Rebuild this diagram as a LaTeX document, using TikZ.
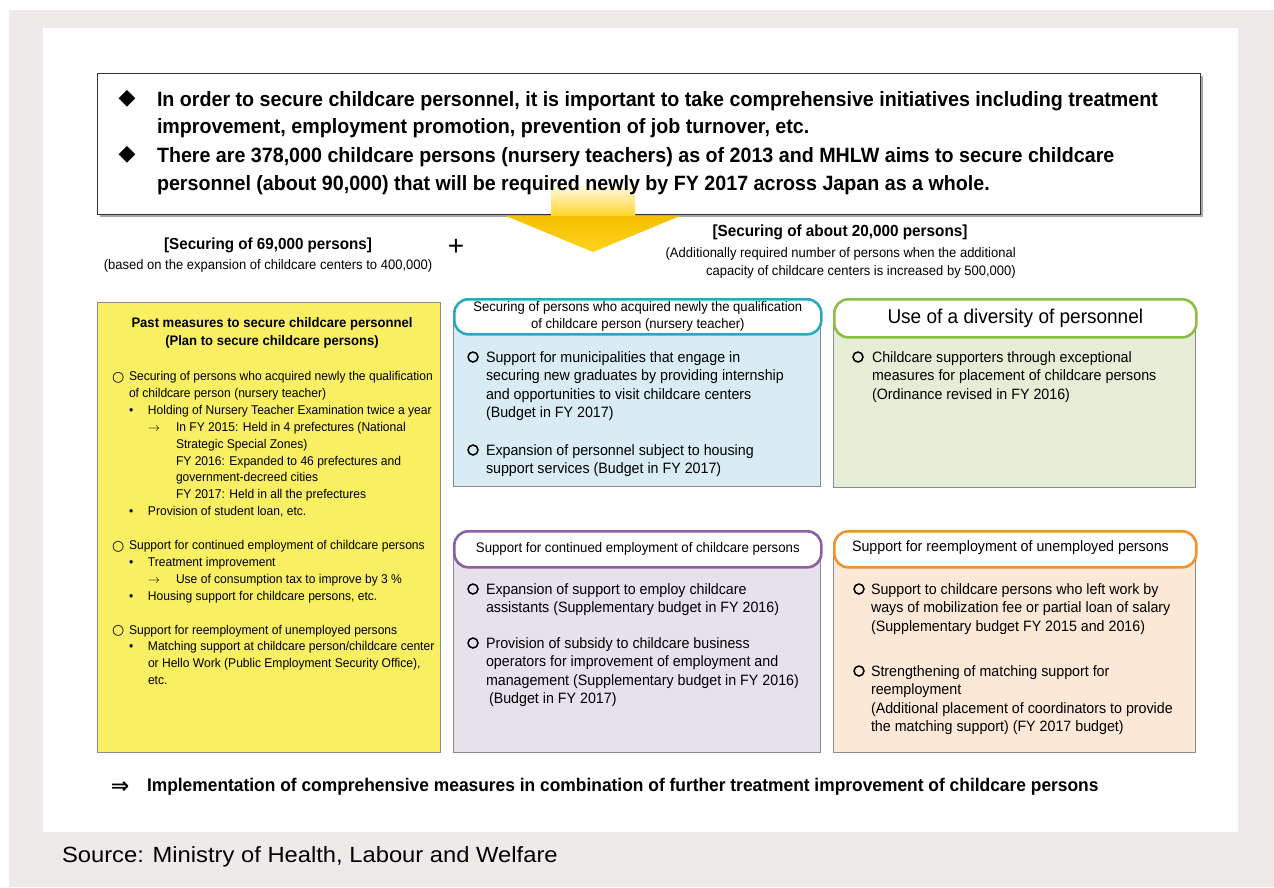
\documentclass[tikz,border=0pt]{standalone}
\usepackage{fontspec}
\setmainfont[FakeStretch=0.95]{Liberation Sans}
\newfontfamily\srcfont[FakeStretch=1.08]{Liberation Sans}
\newfontfamily\plusfont{Liberation Sans}
\newfontfamily\symfont{DejaVu Sans}
\definecolor{bggray}{HTML}{EDEAE9}
\definecolor{boxgray}{HTML}{8C8C8C}
\definecolor{yfill}{HTML}{F8EF63}
\definecolor{bfill}{HTML}{D9ECF4}
\definecolor{gfill}{HTML}{E5EDD6}
\definecolor{pfill}{HTML}{E7E1EC}
\definecolor{ofill}{HTML}{FCE8D7}
\definecolor{bline}{HTML}{2BA7BF}
\definecolor{gline}{HTML}{8CBE44}
\definecolor{pline}{HTML}{8B5EA6}
\definecolor{oline}{HTML}{EF9231}
\definecolor{arrA}{HTML}{F5BF00}
\definecolor{arrB}{HTML}{FFD21F}
\newcommand\fs[2]{\fontsize{#1}{#2}\selectfont}
\newcommand\ycirc{\makebox[17pt][l]{\raisebox{-0.5pt}{\symfont\fs{14}{14}○}}}
\newcommand\ydot{\makebox[19pt][l]{•}}
\newcommand\yarr{\makebox[28pt][l]{\fs{13}{13}\(\rightarrow\)}}
\begin{document}
\begin{tikzpicture}[x=1pt,y=-1pt,
  txt/.style={inner sep=0pt, outer sep=0pt, anchor=north west, align=left},
  ctxt/.style={inner sep=0pt, outer sep=0pt, align=center},
  sym/.style={inner sep=0pt, outer sep=0pt},
  hdr/.style={draw, line width=2.6pt, fill=white, rounded corners=14pt, inner sep=0pt, anchor=north west},
  body/.style={draw=boxgray, line width=0.8pt, inner sep=0pt, anchor=north west},
  yfont/.style={font=\fs{12.7}{16.9}},
  cfont/.style={font=\fs{15}{18.4}},
  obul/.style={circle, draw=black, line width=1.5pt, minimum size=10pt, inner sep=0pt}]
\useasboundingbox (0,0) rectangle (1274,887);
\fill[white] (0,0) rectangle (1274,887);
\fill[bggray] (9,10) rectangle (1274,887);
\fill[white] (43,28) rectangle (1238,832);

% ---- top box
\fill[black!35] (100,76) rectangle (1203,217);
\node[draw=black!80, line width=1pt, fill=white, minimum width=1103pt, minimum height=141pt, inner sep=0pt, anchor=north west] (top) at (97,73) {};

% ---- arrow
\shade[top color=arrB!10!white, bottom color=arrB] (551,185) rectangle (635,218);
\shade[top color=arrA, bottom color=arrB] (506,216) -- (680,216) -- (593,252) -- cycle;

\node[sym, font=\symfont\fs{22}{22}] (d1) at (127,99) {◆};
\node[sym, font=\symfont\fs{22}{22}] (d2) at (127,155) {◆};
\node[txt, font=\fs{20.7}{27.5}\bfseries] (t1) at (157,91.4) {In order to secure childcare personnel, it is important to take comprehensive initiatives including treatment\\improvement, employment promotion, prevention of job turnover, etc.};
\node[txt, font=\fs{20.7}{28}\bfseries] (t2) at (157,147.4) {There are 378,000 childcare persons (nursery teachers) as of 2013 and MHLW aims to secure childcare\\personnel (about 90,000) that will be required newly by FY 2017 across Japan as a whole.};

% ---- section headings
\node[ctxt, font=\fs{16}{20}\bfseries] (h1) at (268,245) {[Securing of 69,000 persons]};
\node[ctxt, font=\fs{13.7}{17}] (h1s) at (268,266) {(based on the expansion of childcare centers to 400,000)};
\node[sym, font=\plusfont\fs{28}{28}] (plus) at (456,247) {+};
\node[ctxt, font=\fs{16.1}{20}\bfseries] (h2) at (840,232) {[Securing of about 20,000 persons]};
\node[inner sep=0pt, align=right, anchor=north east, font=\fs{13.7}{18}] (h2s) at (1016,247) {(Additionally required number of persons when the additional\\capacity of childcare centers is increased by 500,000)};

% ---- yellow box
\node[body, fill=yfill, minimum width=343pt, minimum height=450pt] (ybox) at (97,302) {};
\node[ctxt, font=\fs{13.75}{17.5}\bfseries] (yh) at (272,333) {Past measures to secure childcare personnel\\(Plan to secure childcare persons)};
\node[txt, yfont] (y1) at (112,371.3) {\ycirc Securing of persons who acquired newly the qualification\\
\hspace*{17pt}of childcare person (nursery teacher)\\
\hspace*{17pt}\ydot Holding of Nursery Teacher Examination twice a year\\
\hspace*{36pt}\yarr In FY 2015: Held in 4 prefectures (National\\
\hspace*{64pt}Strategic Special Zones)\\
\hspace*{64pt}FY 2016: Expanded to 46 prefectures and\\
\hspace*{64pt}government-decreed cities\\
\hspace*{64pt}FY 2017: Held in all the prefectures\\
\hspace*{17pt}\ydot Provision of student loan, etc.\\
\mbox{}\\
\ycirc Support for continued employment of childcare persons\\
\hspace*{17pt}\ydot Treatment improvement\\
\hspace*{36pt}\yarr Use of consumption tax to improve by 3 \%\\
\hspace*{17pt}\ydot Housing support for childcare persons, etc.\\
\mbox{}\\
\ycirc Support for reemployment of unemployed persons\\
\hspace*{17pt}\ydot Matching support at childcare person/childcare center\\
\hspace*{36pt}or Hello Work (Public Employment Security Office),\\
\hspace*{36pt}etc.};

% ---- blue box
\node[body, fill=bfill, minimum width=367pt, minimum height=171pt] (bbox) at (453,315) {};
\node[hdr, draw=bline, minimum width=367pt, minimum height=35pt] (bh) at (453,298) {};
\node[ctxt, font=\fs{13.75}{17}] (bht) at (bh.center) {Securing of persons who acquired newly the qualification\\of childcare person (nursery teacher)};
\node[obul] (bo1) at (473,357) {};
\node[txt, cfont] (b1) at (486,351.5) {Support for municipalities that engage in\\securing new graduates by providing internship\\and opportunities to visit childcare centers\\(Budget in FY 2017)};
\node[obul] (bo2) at (473,450) {};
\node[txt, cfont] (b2) at (486,444.5) {Expansion of personnel subject to housing\\support services (Budget in FY 2017)};

% ---- green box
\node[body, fill=gfill, minimum width=362pt, minimum height=171pt] (gbox) at (833,316) {};
\node[hdr, draw=gline, minimum width=362pt, minimum height=38pt] (gh) at (833,298) {};
\node[ctxt, font=\fs{20}{24}] (ght) at (gh.center) {Use of a diversity of personnel};
\node[obul] (go1) at (858,357) {};
\node[txt, cfont] (g1) at (872,351.5) {Childcare supporters through exceptional\\measures for placement of childcare persons\\(Ordinance revised in FY 2016)};

% ---- purple box
\node[body, fill=pfill, minimum width=367pt, minimum height=204pt] (pbox) at (453,548) {};
\node[hdr, draw=pline, minimum width=367pt, minimum height=36pt] (ph) at (453,530) {};
\node[ctxt, font=\fs{13.9}{17}] (pht) at (ph.center) {Support for continued employment of childcare persons};
\node[obul] (po1) at (473,589) {};
\node[txt, cfont] (p1) at (486,583.5) {Expansion of support to employ childcare\\assistants (Supplementary budget in FY 2016)};
\node[obul] (po2) at (473,643) {};
\node[txt, cfont] (p2) at (486,637.5) {Provision of subsidy to childcare business\\operators for improvement of employment and\\management (Supplementary budget in FY 2016)\\\hspace*{3pt}(Budget in FY 2017)};

% ---- orange box
\node[body, fill=ofill, minimum width=362pt, minimum height=204pt] (obox) at (833,548) {};
\node[hdr, draw=oline, minimum width=362pt, minimum height=36pt] (oh) at (833,530) {};
\node[txt, font=\fs{15}{18}, anchor=west] (oht) at (852,548) {Support for reemployment of unemployed persons};
\node[obul] (oo1) at (859,589) {};
\node[txt, cfont] (o1) at (871,583.5) {Support to childcare persons who left work by\\ways of mobilization fee or partial loan of salary\\(Supplementary budget FY 2015 and 2016)};
\node[obul] (oo2) at (859,671) {};
\node[txt, cfont] (o2) at (871,665.5) {Strengthening of matching support for\\reemployment\\(Additional placement of coordinators to provide\\the matching support) (FY 2017 budget)};

% ---- bottom
\node[sym, font=\symfont\bfseries\fs{22}{22}] (imp) at (120,788) {⇒};
\node[txt, font=\fs{18.3}{20}\bfseries, anchor=west] (impt) at (147,787) {Implementation of comprehensive measures in combination of further treatment improvement of childcare persons};
\node[txt, font=\srcfont\fs{22}{24}, anchor=west] (src) at (62,857) {Source: Ministry of Health, Labour and Welfare};
\end{tikzpicture}
\end{document}
